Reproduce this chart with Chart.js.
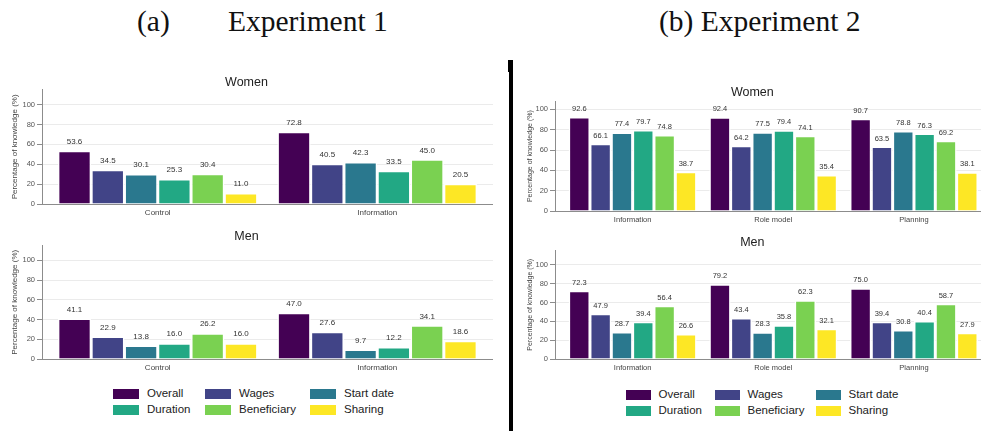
<!DOCTYPE html>
<html>
<head>
<meta charset="utf-8">
<title>Knowledge by treatment arm</title>
<script src="https://cdn.jsdelivr.net/npm/chart.js@4.4.1/dist/chart.umd.min.js"></script>
<style>
  html, body { margin: 0; padding: 0; background: #fff; overflow: hidden; }
  body { width: 981px; height: 431px; position: relative; font-family: "Liberation Sans", Arial, sans-serif; }
  .box { position: absolute; }
  .head { position: absolute; top: 7px; line-height: 1; font-family: "Liberation Serif", "Times New Roman", serif; font-size: 29.5px; color: #111; white-space: nowrap; }
  .divider { position: absolute; left: 509px; top: 60px; bottom: 0; width: 4px; background: #000; }
  .divider-cap { position: absolute; left: 508px; top: 60px; width: 5px; height: 12px; background: #000; }
  .legend { position: absolute; display: grid; row-gap: 5px; font-size: 11.5px; line-height: 11px; color: #222; }
  .legend span { display: flex; align-items: center; white-space: nowrap; }
  .legend i { display: inline-block; height: 10px; }
</style>
</head>
<body>
<div class="head" style="left:137px">(a)</div>
<div class="head" style="left:228px">Experiment 1</div>
<div class="head" style="left:659px">(b) Experiment 2</div>
<div class="divider"></div>
<div class="divider-cap"></div>

<div class="box" style="left:0;top:60px;width:500px;height:166px"><canvas id="e1Women"></canvas></div>
<div class="box" style="left:0;top:225px;width:500px;height:156px"><canvas id="e1Men"></canvas></div>
<div class="box" style="left:513px;top:70px;width:490px;height:158px"><canvas id="e2Women"></canvas></div>
<div class="box" style="left:513px;top:228px;width:490px;height:152px"><canvas id="e2Men"></canvas></div>

<div class="legend" id="legend1" style="left:113px;top:388px;grid-template-columns:92px 105px auto"></div>
<div class="legend" id="legend2" style="left:626px;top:389px;grid-template-columns:89px 101px auto"></div>

<script>
// knowledge items, same order in every chart
const series = ['Overall', 'Wages', 'Start date', 'Duration', 'Beneficiary', 'Sharing'];
const seriesColors = ['#440154', '#414487', '#2a788e', '#22a884', '#7ad151', '#fde725'];

// Experiment 1
const exp1Groups = ['Control', 'Information'];
const exp1Women = [
  [53.6, 72.8],
  [34.5, 40.5],
  [30.1, 42.3],
  [25.3, 33.5],
  [30.4, 45.0],
  [11.0, 20.5]
];
const exp1Men = [
  [41.1, 47.0],
  [22.9, 27.6],
  [13.8, 9.7],
  [16.0, 12.2],
  [26.2, 34.1],
  [16.0, 18.6]
];

// Experiment 2
const exp2Groups = ['Information', 'Role model', 'Planning'];
const exp2Women = [
  [92.6, 92.4, 90.7],
  [66.1, 64.2, 63.5],
  [77.4, 77.5, 78.8],
  [79.7, 79.4, 76.3],
  [74.8, 74.1, 69.2],
  [38.7, 35.4, 38.1]
];
const exp2Men = [
  [72.3, 79.2, 75.0],
  [47.9, 43.4, 39.4],
  [28.7, 28.3, 30.8],
  [39.4, 35.8, 40.4],
  [56.4, 62.3, 58.7],
  [26.6, 32.1, 27.9]
];

const FONT = '"Liberation Sans", Arial, sans-serif';
Chart.defaults.font.family = FONT;

// numbers printed above every bar
const barValues = {
  id: 'barValues',
  afterDatasetsDraw(chart, args, opts) {
    const ctx = chart.ctx;
    ctx.save();
    ctx.font = opts.size + 'px ' + FONT;
    ctx.fillStyle = '#333';
    ctx.textAlign = 'center';
    ctx.textBaseline = 'middle';
    chart.data.datasets.forEach(function (ds, i) {
      chart.getDatasetMeta(i).data.forEach(function (bar, j) {
        ctx.fillText(ds.data[j].toFixed(1), bar.x, bar.y - opts.gap);
      });
    });
    ctx.restore();
  }
};

// leave a little room between the y axis and the first group
const axisInset = {
  id: 'axisInset',
  afterLayout(chart, args, opts) {
    const x = chart.scales.x;
    x.left += opts.pad;
    x.right -= opts.pad;
    x.width = x.right - x.left;
    x.configure();
  }
};

function drawPanel(id, title, groups, values, o) {
  const ctx = document.getElementById(id).getContext('2d');
  return new Chart(ctx, {
    type: 'bar',
    data: {
      labels: groups,
      datasets: series.map(function (name, i) {
        return {
          label: name,
          data: values[i],
          backgroundColor: seriesColors[i],
          borderColor: '#ffffff',
          borderWidth: 1.5,
          barPercentage: 1,
          categoryPercentage: 0.91
        };
      })
    },
    plugins: [barValues, axisInset],
    options: {
      responsive: true,
      maintainAspectRatio: false,
      animation: false,
      layout: { padding: { left: 0, right: o.right, top: 0, bottom: 0 } },
      plugins: {
        legend: { display: false },
        tooltip: { enabled: false },
        title: {
          display: true,
          text: title,
          color: '#222',
          font: { size: 12.5, weight: 'normal' },
          padding: { top: o.titleTop, bottom: o.titleBottom }
        },
        barValues: { size: o.valueSize, gap: o.valueGap },
        axisInset: { pad: o.pad }
      },
      scales: {
        x: {
          afterFit: function (s) { s.height = o.xHeight; },
          grid: { display: false, drawTicks: false },
          border: { display: false },
          ticks: { color: '#444', font: { size: o.catSize }, padding: 4 }
        },
        y: {
          min: 0,
          max: o.max,
          afterFit: function (s) { s.width = 42; },
          ticks: { stepSize: 20, includeBounds: false, color: '#555', font: { size: o.tickSize }, padding: 2 },
          grid: {
            color: function (c) { return c.tick && c.tick.value === 0 ? '#8c8c8c' : '#ebebeb'; },
            tickColor: '#8c8c8c',
            tickLength: 5
          },
          border: { color: '#8c8c8c' },
          title: {
            display: true,
            text: 'Percentage of knowledge (%)',
            color: '#444',
            font: { size: o.yTitleSize },
            padding: { top: o.yTitlePad, bottom: 0 }
          }
        }
      }
    }
  });
}

const exp1Style = { right: 7, pad: 6, max: 115, xHeight: 22, catSize: 8, tickSize: 7.5,
  valueSize: 8, valueGap: 9, yTitleSize: 8, yTitlePad: 10 };
const exp2Style = { right: 11.4, pad: 7.3, max: 115, xHeight: 17, catSize: 7.5, tickSize: 7.5,
  valueSize: 7.5, valueGap: 8, yTitleSize: 7, yTitlePad: 12.8 };

drawPanel('e1Women', 'Women', exp1Groups, exp1Women,
  Object.assign({}, exp1Style, { titleTop: 14.8, titleBottom: 0 }));
drawPanel('e1Men', 'Men', exp1Groups, exp1Men,
  Object.assign({}, exp1Style, { titleTop: 3.8, titleBottom: 1.8 }));
drawPanel('e2Women', 'Women', exp2Groups, exp2Women,
  Object.assign({}, exp2Style, { max: 108, titleTop: 15.1, titleBottom: 1.2 }));
drawPanel('e2Men', 'Men', exp2Groups, exp2Men,
  Object.assign({}, exp2Style, { titleTop: 7.5, titleBottom: 0.1, xHeight: 21 }));

// shared legend under each experiment
function buildLegend(id, boxWidth, gap) {
  const el = document.getElementById(id);
  series.forEach(function (name, i) {
    const item = document.createElement('span');
    const swatch = document.createElement('i');
    swatch.style.width = boxWidth + 'px';
    swatch.style.marginRight = gap + 'px';
    swatch.style.background = seriesColors[i];
    item.appendChild(swatch);
    item.appendChild(document.createTextNode(name));
    el.appendChild(item);
  });
}
buildLegend('legend1', 26, 8);
buildLegend('legend2', 25, 7.5);
</script>
</body>
</html>
